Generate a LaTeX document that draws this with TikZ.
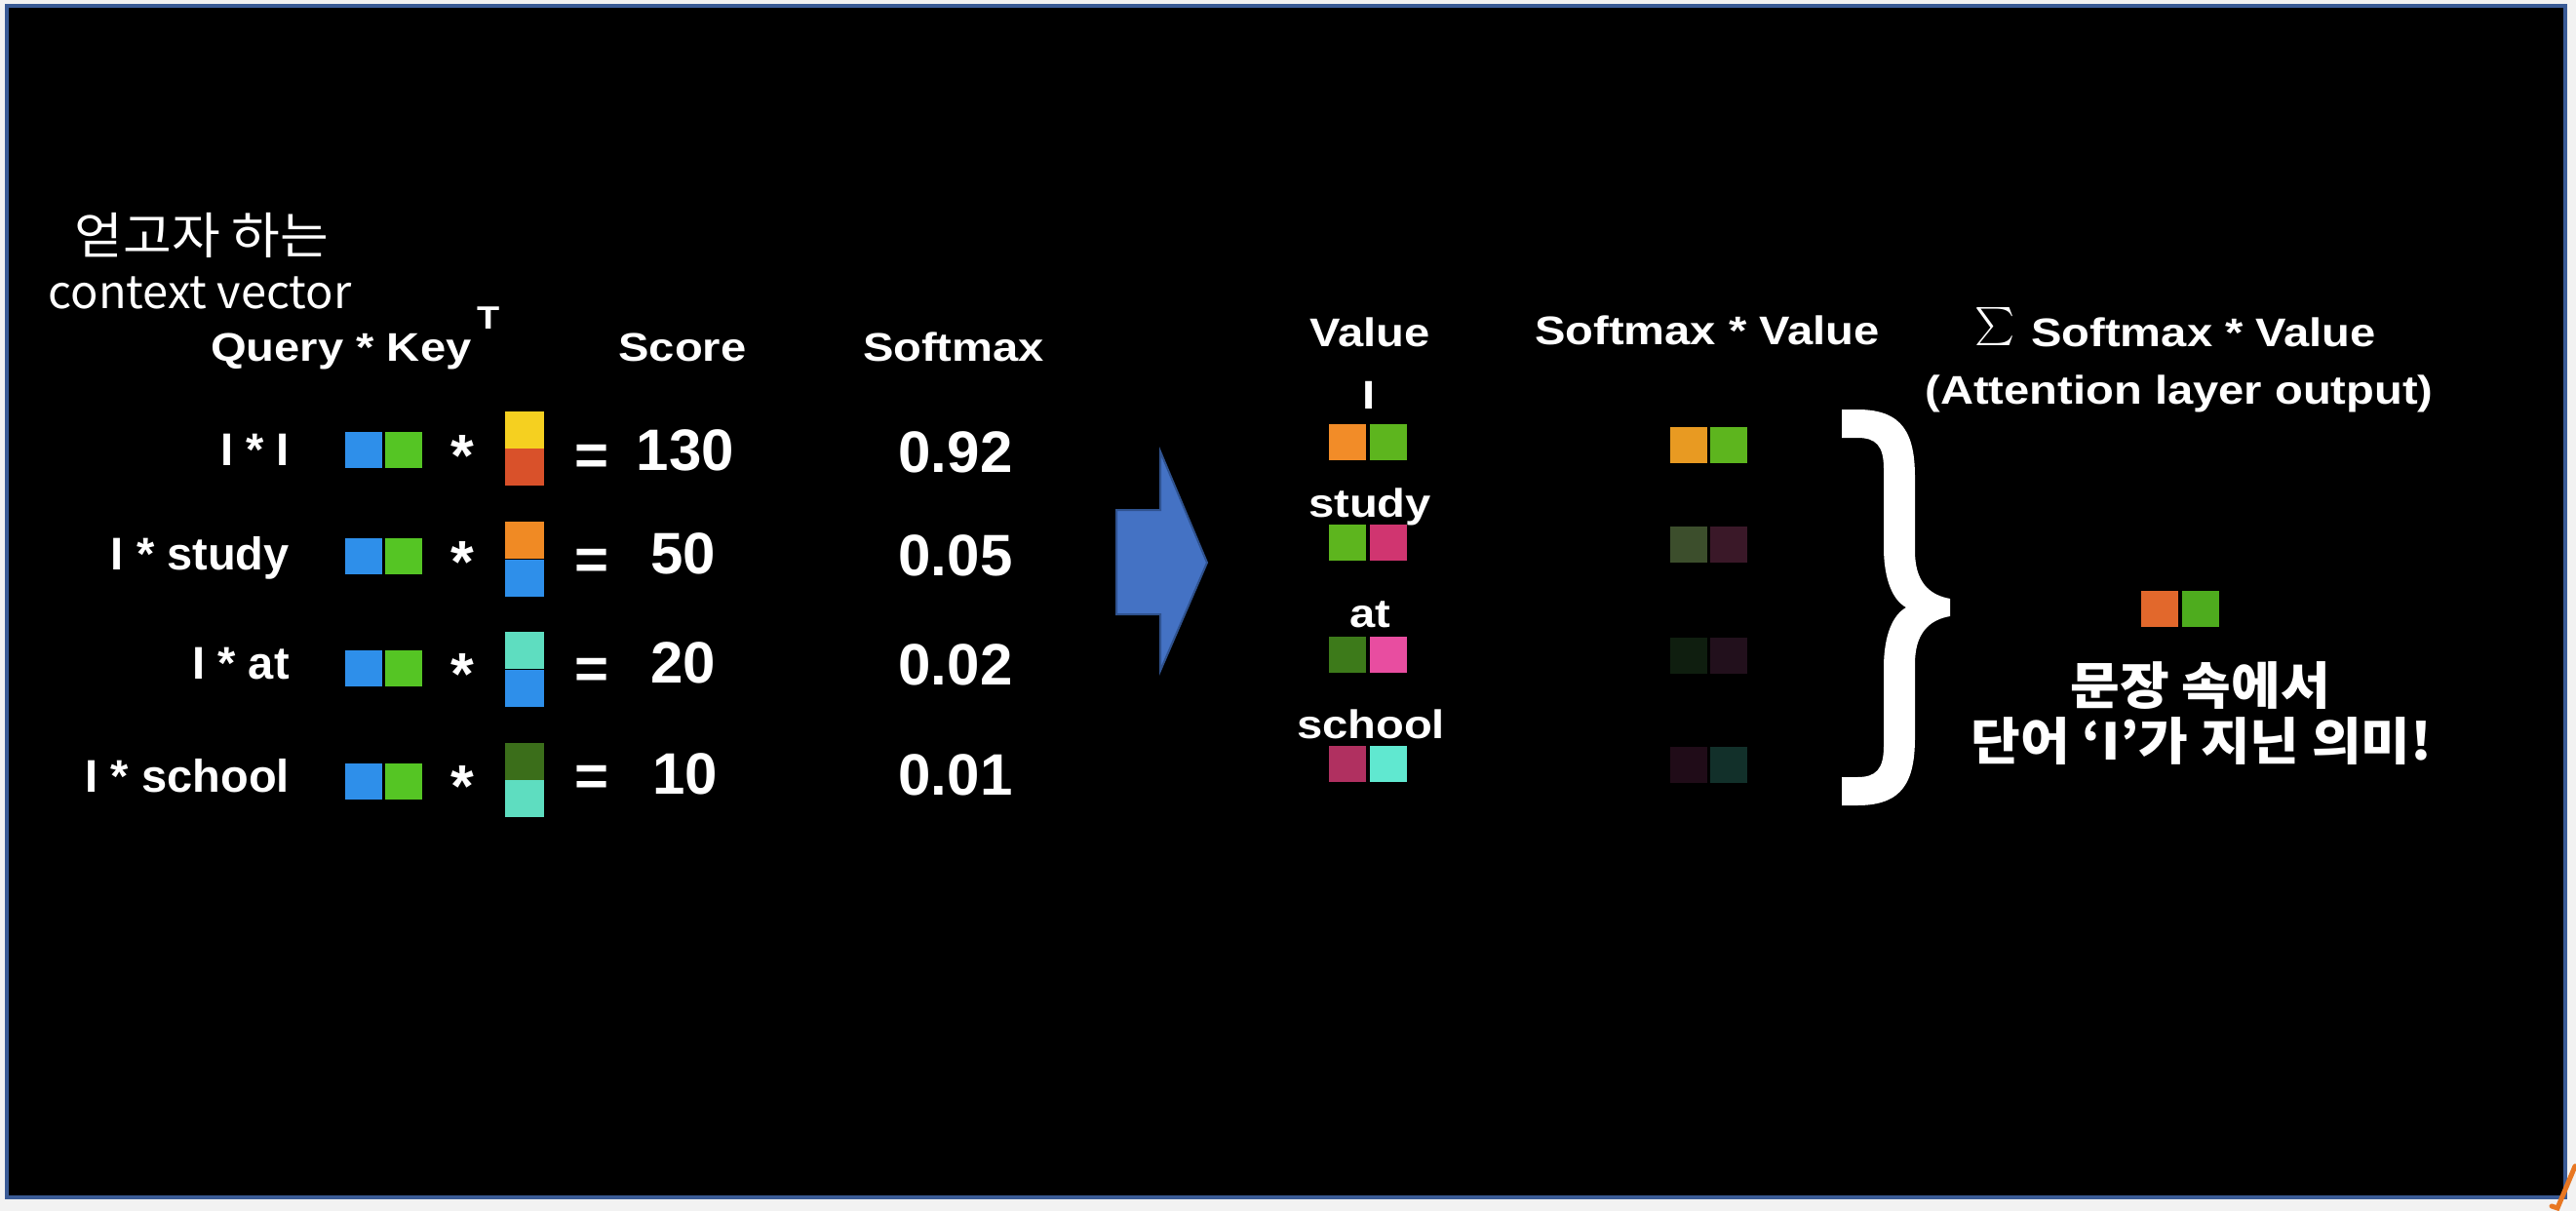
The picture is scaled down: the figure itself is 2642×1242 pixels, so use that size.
\documentclass[tikz,border=0pt]{standalone}
\usepackage{fontspec}
\usepackage{graphicx}
\setmainfont{Liberation Sans}
\newfontfamily\hdrfont[FakeStretch=1.15]{Liberation Sans}
\newfontfamily\lblfont{Liberation Sans}
\newfontfamily\korfont{Noto Sans CJK KR}
\newfontfamily\korwfont[FakeStretch=1.06]{Noto Sans CJK KR}
\definecolor{bggray}{HTML}{F2F2F2}
\definecolor{frameblue}{HTML}{3A5B96}
\definecolor{arrowfill}{HTML}{4472C4}
\definecolor{arrowline}{HTML}{2F528F}
\definecolor{slideorange}{HTML}{E87722}
\definecolor{qblue}{HTML}{2E8FEA}
\definecolor{qgreen}{HTML}{55C524}
\definecolor{kyellow}{HTML}{F5D020}
\definecolor{kred}{HTML}{D9512A}
\definecolor{korange}{HTML}{F08A24}
\definecolor{kaqua}{HTML}{5EDDC0}
\definecolor{kdkgreen}{HTML}{3B6E1A}
\definecolor{vorange}{HTML}{F28C28}
\definecolor{vgreen}{HTML}{5DB51E}
\definecolor{vpink}{HTML}{D03570}
\definecolor{vdkgreen}{HTML}{3D7A1A}
\definecolor{vhotpink}{HTML}{E84DA0}
\definecolor{vcrimson}{HTML}{B03060}
\definecolor{vaqua}{HTML}{60E8D0}
\definecolor{sorange}{HTML}{E89A22}
\definecolor{sgreen}{HTML}{5DB51E}
\definecolor{solive}{HTML}{3C4E2C}
\definecolor{smaroon}{HTML}{3A1828}
\definecolor{sdkgreen}{HTML}{0F1E0F}
\definecolor{sdkpurple}{HTML}{22101C}
\definecolor{sdkmaroon}{HTML}{200C18}
\definecolor{sdkteal}{HTML}{12302A}
\definecolor{oorange}{HTML}{E2682C}
\definecolor{ogreen}{HTML}{4EAC1E}
\tikzset{
  hdr/.style={text=white, inner sep=0pt, anchor=base, font=\hdrfont\bfseries\fontsize{41}{46}\selectfont},
  rowlbl/.style={text=white, inner sep=0pt, anchor=base east, font=\lblfont\bfseries\fontsize{47}{52}\selectfont},
  numtxt/.style={text=white, inner sep=0pt, anchor=base, font=\lblfont\bfseries\fontsize{60}{66}\selectfont},
  startxt/.style={text=white, inner sep=0pt, anchor=base, font=\lblfont\bfseries\fontsize{61}{66}\selectfont},
  cell/.style={fill=#1, inner sep=0pt, outer sep=0pt, minimum width=38pt, minimum height=37pt, anchor=north west},
  keycell/.style={fill=#1, inner sep=0pt, outer sep=0pt, minimum width=40pt, minimum height=38pt, anchor=north west},
  kor/.style={text=white, inner sep=0pt, anchor=base, font=\korfont\fontsize{47}{52}\selectfont},
  korb/.style={text=white, inner sep=0pt, anchor=base, font=\korwfont\bfseries\fontsize{52}{58}\selectfont},
}
\begin{document}
\begin{tikzpicture}[x=1pt, y=-1pt]
\useasboundingbox (0,0) rectangle (2642,1242);
% slide frame
\fill[bggray] (0,0) rectangle (2642,1242);
\fill[black] (6,5) rectangle (2631,1229);
\draw[frameblue, line width=4pt] (6.5,5.5) rectangle (2630.5,1228);
\draw[slideorange, line width=5pt, line cap=round] (2641,1196) -- (2623,1239) -- (2617,1237);

% top-left Korean caption
\node[kor, font=\korwfont\fontsize{51}{56}\selectfont] (cap1) at (207,260) {얻고자 하는};
\node[kor] (cap2) at (205,316) {context vector};

% headers (left)
\node[hdr, anchor=base west] (qk) at (216,370) {Query * Key};
\node[hdr, anchor=base west, font=\hdrfont\bfseries\fontsize{33}{36}\selectfont] (qkT) at (489,337) {T};
\node[hdr] (scoreh) at (700,370) {Score};
\node[hdr] (softh) at (978,370) {Softmax};

% row labels
\node[rowlbl] (r1) at (297,477) {I * I};
\node[rowlbl] (r2) at (297,584) {I * study};
\node[rowlbl] (r3) at (297,696) {I * at};
\node[rowlbl] (r4) at (297,812) {I * school};

% query vectors
\node[cell=qblue] (q1a) at (354,443) {};
\node[cell=qgreen] (q1b) at (395,443) {};
\node[cell=qblue] (q2a) at (354,552) {};
\node[cell=qgreen] (q2b) at (395,552) {};
\node[cell=qblue] (q3a) at (354,667) {};
\node[cell=qgreen] (q3b) at (395,667) {};
\node[cell=qblue] (q4a) at (354,783) {};
\node[cell=qgreen] (q4b) at (395,783) {};

% asterisks
\node[startxt] (m1) at (474,488) {*};
\node[startxt] (m2) at (474,597) {*};
\node[startxt] (m3) at (474,712) {*};
\node[startxt] (m4) at (474,827) {*};

% key vectors (transposed)
\node[keycell=kyellow] (k1a) at (518,422) {};
\node[keycell=kred] (k1b) at (518,460) {};
\node[keycell=korange] (k2a) at (518,535) {};
\node[keycell=qblue] (k2b) at (518,574) {};
\node[keycell=kaqua] (k3a) at (518,648) {};
\node[keycell=qblue] (k3b) at (518,687) {};
\node[keycell=kdkgreen] (k4a) at (518,762) {};
\node[keycell=kaqua] (k4b) at (518,800) {};

% equals and scores
\node[numtxt] (e1) at (607,487) {=};
\node[numtxt] (e2) at (607,594) {=};
\node[numtxt] (e3) at (607,706) {=};
\node[numtxt] (e4) at (607,816) {=};
\node[numtxt] (s1) at (703,482) {130};
\node[numtxt] (s2) at (701,588) {50};
\node[numtxt] (s3) at (701,700) {20};
\node[numtxt] (s4) at (703,814) {10};

% softmax values
\node[numtxt] (p1) at (980,484) {0.92};
\node[numtxt] (p2) at (980,590) {0.05};
\node[numtxt] (p3) at (980,702) {0.02};
\node[numtxt] (p4) at (980,815) {0.01};

% big arrow
\fill[arrowfill, draw=arrowline, line width=2pt]
  (1145,523) -- (1190,523) -- (1190,463) -- (1238,577) -- (1190,688) -- (1190,630) -- (1145,630) -- cycle;

% value column
\node[hdr] (valh) at (1405,355) {Value};
\node[hdr] (vl1) at (1404,419) {I};
\node[hdr] (vl2) at (1405,530) {study};
\node[hdr] (vl3) at (1405,643) {at};
\node[hdr] (vl4) at (1406,757) {school};
\node[cell=vorange] (v1a) at (1363,435) {};
\node[cell=vgreen] (v1b) at (1405,435) {};
\node[cell=vgreen] (v2a) at (1363,538) {};
\node[cell=vpink] (v2b) at (1405,538) {};
\node[cell=vdkgreen] (v3a) at (1363,653) {};
\node[cell=vhotpink] (v3b) at (1405,653) {};
\node[cell=vcrimson] (v4a) at (1363,765) {};
\node[cell=vaqua] (v4b) at (1405,765) {};

% softmax * value column
\node[hdr] (sxvh) at (1751,353) {Softmax * Value};
\node[cell=sorange] (w1a) at (1713,438) {};
\node[cell=sgreen] (w1b) at (1754,438) {};
\node[cell=solive] (w2a) at (1713,540) {};
\node[cell=smaroon] (w2b) at (1754,540) {};
\node[cell=sdkgreen] (w3a) at (1713,654) {};
\node[cell=sdkpurple] (w3b) at (1754,654) {};
\node[cell=sdkmaroon] (w4a) at (1713,766) {};
\node[cell=sdkteal] (w4b) at (1754,766) {};

% brace
\fill[white]
  (1889,420) -- (1905,420)
  .. controls (1952,420) and (1964,445) .. (1964,490)
  -- (1964,565)
  .. controls (1964,595) and (1977,610) .. (2000,614)
  -- (2000,632)
  .. controls (1977,636) and (1964,651) .. (1964,681)
  -- (1964,756)
  .. controls (1964,801) and (1952,826) .. (1905,826)
  -- (1889,826) -- (1889,797) -- (1905,797)
  .. controls (1924,797) and (1932,789) .. (1932,765)
  -- (1932,685)
  .. controls (1932,650) and (1942,630) .. (1955,623)
  .. controls (1942,616) and (1932,596) .. (1932,561)
  -- (1932,481)
  .. controls (1932,457) and (1924,449) .. (1905,449)
  -- (1889,449) -- cycle;

% sum header
\node[text=white, inner sep=0pt] (sig) at (2046,335) {\scalebox{3.9}{$\textstyle\sum$}};
\node[hdr, anchor=base west] (sumh) at (2083,355) {Softmax * Value};
\node[hdr] (attn) at (2235,414) {(Attention layer output)};

% output vector
\node[cell=oorange] (o1a) at (2196,606) {};
\node[cell=ogreen] (o1b) at (2238,606) {};

% meaning text
\node[korb] (mean1) at (2257,722) {문장 속에서};
\node[korb] (mean2) at (2258,779) {단어 ‘I’가 지닌 의미!};
\end{tikzpicture}
\end{document}
